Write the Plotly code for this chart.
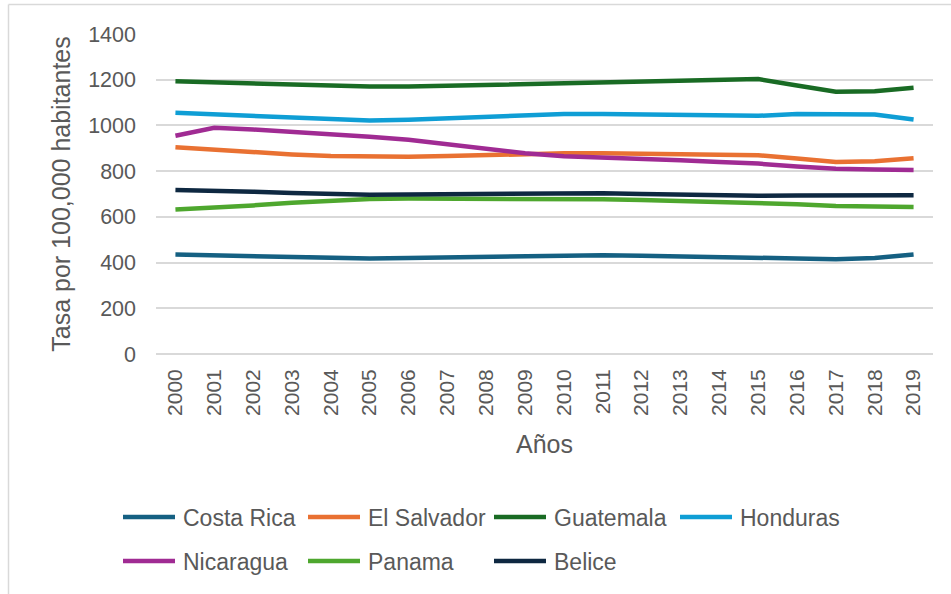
import plotly.graph_objects as go

# Tasa por 100,000 habitantes, 2000-2019
years = [str(y) for y in range(2000, 2020)]

costa_rica = [435, 432, 427, 422, 420, 418, 420, 423, 427, 430,
              432, 432, 430, 428, 426, 424, 418, 415, 420, 435]
el_salvador = [905, 893, 882, 873, 866, 863, 863, 866, 870, 875,
               878, 878, 876, 874, 872, 870, 855, 840, 843, 856]
guatemala = [1193, 1188, 1183, 1177, 1172, 1170, 1170, 1174, 1178, 1182,
             1186, 1190, 1194, 1197, 1202, 1203, 1175, 1147, 1150, 1165]
honduras = [1055, 1048, 1040, 1032, 1026, 1022, 1025, 1032, 1040, 1046,
            1050, 1050, 1048, 1044, 1042, 1042, 1050, 1048, 1048, 1026]
nicaragua = [955, 990, 982, 972, 962, 950, 937, 918, 897, 878,
             865, 860, 855, 848, 840, 833, 820, 810, 807, 805]
panama = [632, 640, 650, 662, 672, 678, 680, 680, 680, 678,
          678, 677, 674, 670, 667, 662, 655, 648, 644, 643]
belice = [718, 715, 710, 704, 700, 697, 698, 699, 701, 702,
          703, 703, 700, 696, 693, 692, 693, 695, 695, 695]

names = ["Costa Rica", "El Salvador", "Guatemala", "Honduras",
         "Nicaragua", "Panama", "Belice"]
series = [costa_rica, el_salvador, guatemala, honduras,
          nicaragua, panama, belice]
colors = ["#156082", "#E97132", "#196B24", "#0F9ED5",
          "#A02B93", "#4EA72E", "#0E2841"]

W, H = 951, 594
ML, MR, MT, MB = 156, 18, 34, 240
PW, PH = W - ML - MR, H - MT - MB


def px_x(p):
    return (p - ML) / PW


def px_y(p):
    return (H - MB - p) / PH


fig = go.Figure()
for name, vals, col in zip(names, series, colors):
    fig.add_trace(go.Scatter(
        x=years, y=vals, name=name, mode="lines",
        line=dict(color=col, width=4.5), showlegend=False,
    ))

text_col = "#595959"
font_main = "Liberation Sans, Arial, sans-serif"
font_legend = "Liberation Sans Narrow, Liberation Sans, Arial, sans-serif"

shapes = []
annotations = []

# Legend: 4 entries on the first row, 3 on the second
col_x = [123, 308, 494, 680]
row_y = [517, 561]
for i, (name, col) in enumerate(zip(names, colors)):
    r, c = divmod(i, 4)
    x0 = col_x[c]
    y = row_y[r]
    shapes.append(dict(
        type="line", xref="paper", yref="paper",
        x0=px_x(x0), x1=px_x(x0 + 52), y0=px_y(y), y1=px_y(y),
        line=dict(color=col, width=4.5),
    ))
    annotations.append(dict(
        text=name, xref="paper", yref="paper",
        x=px_x(x0 + 58), y=px_y(y + 1), xanchor="left", yanchor="middle",
        showarrow=False, font=dict(family=font_legend, size=23, color=text_col),
    ))

# Chart frame (left and top edges)
shapes.append(dict(type="line", xref="paper", yref="paper",
                   x0=px_x(8.5), x1=px_x(8.5), y0=px_y(4.5), y1=px_y(H + 2),
                   line=dict(color="#D9D9D9", width=1.5)))
shapes.append(dict(type="line", xref="paper", yref="paper",
                   x0=px_x(8.5), x1=px_x(W + 2), y0=px_y(4.5), y1=px_y(4.5),
                   line=dict(color="#D9D9D9", width=1.5)))

fig.update_layout(
    width=W, height=H,
    margin=dict(l=ML, r=MR, t=MT, b=MB),
    paper_bgcolor="white", plot_bgcolor="white",
    font=dict(family=font_main, color=text_col),
    shapes=shapes, annotations=annotations,
    xaxis=dict(
        type="category", tickangle=-90, range=[-0.5, 19.5],
        tickfont=dict(size=21, color=text_col),
        showgrid=False, showline=False, zeroline=False,
        ticks="", ticklabelstandoff=10,
        title=dict(text="Años", font=dict(size=25, color=text_col), standoff=20),
    ),
    yaxis=dict(
        range=[0, 1400], dtick=200, tick0=0,
        tickfont=dict(size=21.5, color=text_col),
        showgrid=True, gridcolor="#D9D9D9", gridwidth=1.5,
        zeroline=True, zerolinecolor="#D9D9D9", zerolinewidth=1.5,
        showline=False, ticks="", ticklabelstandoff=19,
        title=dict(text="Tasa por 100,000 habitantes",
                   font=dict(size=25, color=text_col), standoff=10),
    ),
)

fig.write_html("out.html")
